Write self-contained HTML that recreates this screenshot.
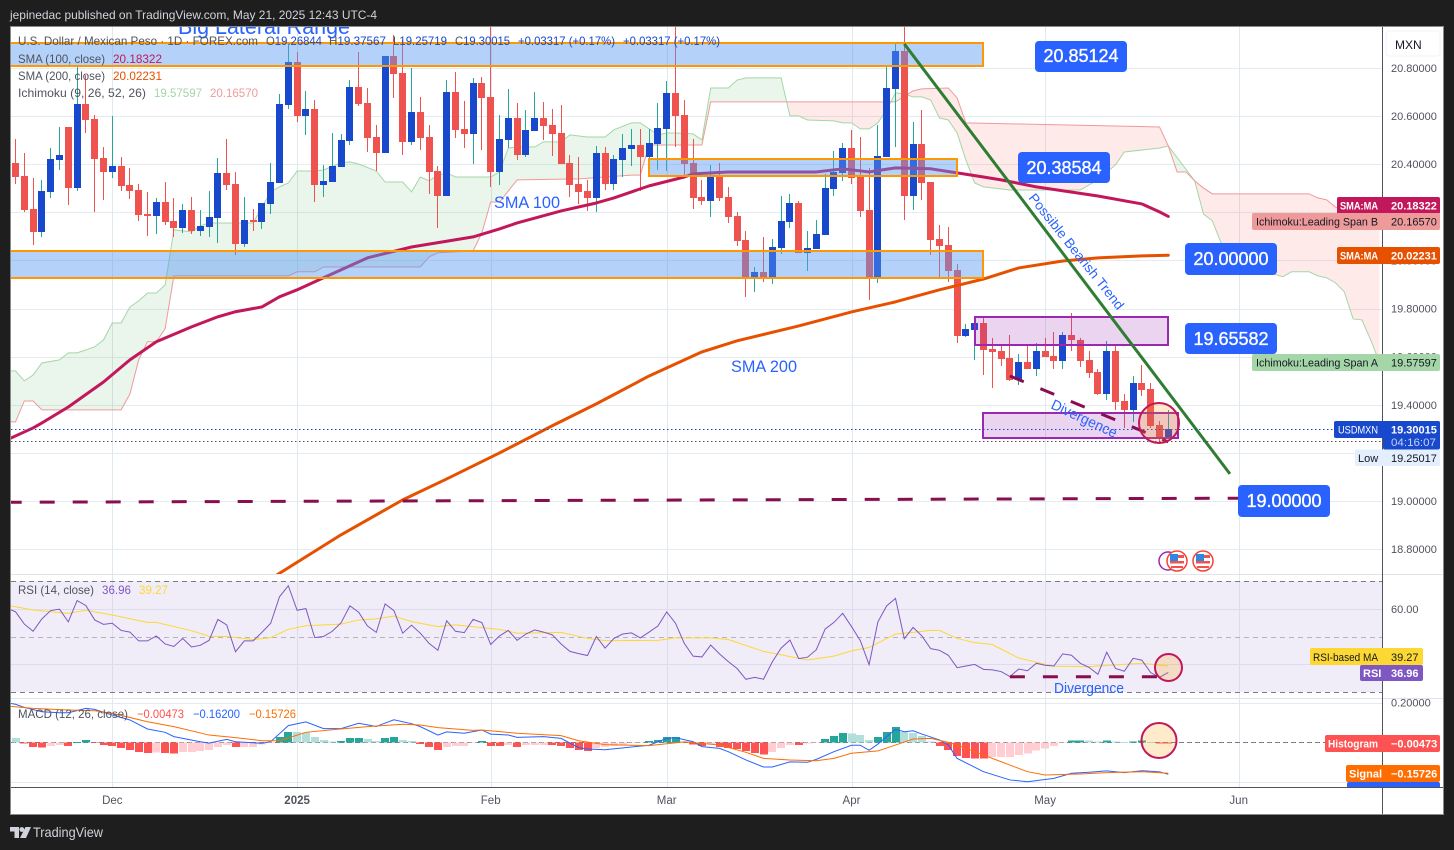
<!DOCTYPE html>
<html lang="en">
<head>
<meta charset="utf-8">
<title>USDMXN Daily Chart</title>
<style>
html,body{margin:0;padding:0;background:#1e1e1e;width:1454px;height:850px;overflow:hidden}
svg{display:block;font-family:"Liberation Sans",sans-serif}
</style>
</head>
<body>
<svg id="chart" xmlns="http://www.w3.org/2000/svg" width="1454" height="850" viewBox="0 0 1454 850">
<defs>
<clipPath id="clip-price"><rect x="11" y="27" width="1371" height="547"/></clipPath>
<clipPath id="clip-rsi"><rect x="11" y="575" width="1371" height="123"/></clipPath>
<clipPath id="clip-macd"><rect x="11" y="699" width="1371" height="88"/></clipPath>
<clipPath id="clip-scale-macd"><rect x="1300" y="699" width="143" height="88"/></clipPath>
</defs>
<rect x="0" y="0" width="1454" height="850" fill="#1e1e1e"/>
<text x="10" y="19" font-size="12" fill="#d1d4dc" textLength="367" lengthAdjust="spacingAndGlyphs">jepinedac published on TradingView.com, May 21, 2025 12:43 UTC-4</text>
<rect x="10.5" y="26.5" width="1433" height="788" fill="#ffffff" stroke="#8a8a8a" stroke-width="1"/>

<g id="grid"></g>
<rect x="11" y="581" width="1371" height="111" fill="#f0edf8"/>
<g id="gridOver"></g>

<g clip-path="url(#clip-price)">
  <g id="cloud"></g>
  <g id="candles"></g>
  <g id="mas"></g>
  <g id="zones"></g>
  <g id="trend"></g>
  <line x1="11" y1="429.5" x2="1334" y2="429.5" stroke="#1848cc" stroke-width="1" stroke-dasharray="1.5 2.5"/>
  <line x1="11" y1="441.5" x2="1382" y2="441.5" stroke="#50535e" stroke-width="1" stroke-dasharray="1.5 2.5"/>
  <circle cx="1159" cy="423" r="20" fill="#ff9800" fill-opacity="0.2" stroke="#c2185b" stroke-width="2"/>
  <text x="178" y="34" font-size="22" fill="#2962ff" textLength="172" lengthAdjust="spacingAndGlyphs">Big Lateral Range</text>
  <text x="494" y="208" font-size="17" fill="#2962ff" textLength="66" lengthAdjust="spacingAndGlyphs">SMA 100</text>
  <text x="731" y="372" font-size="17" fill="#2962ff" textLength="66" lengthAdjust="spacingAndGlyphs">SMA 200</text>
  <text transform="translate(1028 198) rotate(51.5)" font-size="13.5" fill="#2962ff" textLength="144" lengthAdjust="spacingAndGlyphs">Possible Bearish Trend</text>
  <text transform="translate(1050 408) rotate(25)" font-size="14.5" fill="#2962ff" textLength="71" lengthAdjust="spacingAndGlyphs">Divergence</text>
</g>

<g>
  <circle cx="1168" cy="561" r="9" fill="#ffffff" stroke="#9c27b0" stroke-width="1.5"/>
  <g>
    <circle cx="1177" cy="561" r="10" fill="#ffffff" stroke="#f44336" stroke-width="1.5"/>
    <rect x="1170" y="555" width="14" height="3" fill="#ef5350"/><rect x="1170" y="561" width="14" height="2.5" fill="#ef5350"/><rect x="1171" y="566" width="12" height="2" fill="#ef5350"/>
    <rect x="1170" y="554" width="8" height="7" fill="#2e86de"/>
  </g>
  <g>
    <circle cx="1203" cy="561" r="10" fill="#ffffff" stroke="#f44336" stroke-width="1.5"/>
    <rect x="1196" y="555" width="14" height="3" fill="#ef5350"/><rect x="1196" y="561" width="14" height="2.5" fill="#ef5350"/><rect x="1197" y="566" width="12" height="2" fill="#ef5350"/>
    <rect x="1196" y="554" width="8" height="7" fill="#2e86de"/>
  </g>
</g>

<g clip-path="url(#clip-rsi)">
  <g id="rsiLines"></g>
  <circle cx="1168.5" cy="667.5" r="13.5" fill="#ff9800" fill-opacity="0.2" stroke="#c2185b" stroke-width="2"/>
  <text x="1054" y="693" font-size="14.5" fill="#2962ff" textLength="70" lengthAdjust="spacingAndGlyphs">Divergence</text>
</g>

<g clip-path="url(#clip-macd)">
  <line x1="11" y1="742.5" x2="1382" y2="742.5" stroke="#787b86" stroke-width="1" stroke-dasharray="5 3"/>
  <g id="macdBars"></g>
  <g id="macdLines"></g>
  <circle cx="1159" cy="740.5" r="17.5" fill="#ff9800" fill-opacity="0.2" stroke="#c2185b" stroke-width="2"/>
</g>

<line x1="11" y1="574.5" x2="1443" y2="574.5" stroke="#e0e3eb"/>
<line x1="11" y1="698.5" x2="1443" y2="698.5" stroke="#e0e3eb"/>
<line x1="1382.5" y1="27" x2="1382.5" y2="814" stroke="#50535e"/>
<line x1="11" y1="787.5" x2="1443" y2="787.5" stroke="#50535e"/>

<g id="axisText"></g>

<g>
  <rect x="1386" y="31" width="54" height="25" rx="3" fill="#ffffff" stroke="#f0f3fa"/>
  <text x="1395" y="49" font-size="12" fill="#131722">MXN</text>
</g>

<g font-size="18" fill="#ffffff" stroke="#ffffff" stroke-width="0.35" text-anchor="middle">
  <g><rect x="1035" y="41" width="92" height="31" rx="4" fill="#2962ff" stroke="none"/><text x="1081" y="62">20.85124</text></g>
  <g><rect x="1018" y="152" width="92" height="31" rx="4" fill="#2962ff" stroke="none"/><text x="1064" y="174">20.38584</text></g>
  <g><rect x="1185" y="243" width="92" height="32" rx="4" fill="#2962ff" stroke="none"/><text x="1231" y="265">20.00000</text></g>
  <g><rect x="1185" y="323" width="92" height="31" rx="4" fill="#2962ff" stroke="none"/><text x="1231" y="345">19.65582</text></g>
  <g><rect x="1238" y="485" width="92" height="32" rx="4" fill="#2962ff" stroke="none"/><text x="1284" y="507">19.00000</text></g>
</g>

<g font-size="11">
  <g fill="#ffffff" font-weight="bold">
    <rect x="1337" y="197" width="103" height="17" rx="2" fill="#c2185b"/>
    <text x="1340" y="209.5" textLength="38" lengthAdjust="spacingAndGlyphs">SMA:MA</text><text x="1391" y="209.5">20.18322</text>
  </g>
  <g fill="#131722">
    <rect x="1252" y="213" width="188" height="17" rx="2" fill="#ef9a9a"/>
    <text x="1256" y="225.5" textLength="122" lengthAdjust="spacingAndGlyphs">Ichimoku:Leading Span B</text><text x="1391" y="225.5">20.16570</text>
  </g>
  <g fill="#ffffff" font-weight="bold">
    <rect x="1337" y="247" width="103" height="17" rx="2" fill="#e65100"/>
    <text x="1340" y="259.5" textLength="38" lengthAdjust="spacingAndGlyphs">SMA:MA</text><text x="1391" y="259.5">20.02231</text>
  </g>
  <g fill="#131722">
    <rect x="1252" y="354" width="188" height="17" rx="2" fill="#a5d6a7"/>
    <text x="1256" y="366.5" textLength="122" lengthAdjust="spacingAndGlyphs">Ichimoku:Leading Span A</text><text x="1391" y="366.5">19.57597</text>
  </g>
  <g fill="#ffffff" font-weight="bold">
    <rect x="1334" y="421" width="106" height="17" rx="2" fill="#1848cc"/>
    <rect x="1383" y="421" width="57" height="28.5" rx="2" fill="#1848cc"/>
    <text x="1338" y="433.5" font-weight="normal" textLength="40" lengthAdjust="spacingAndGlyphs">USDMXN</text><text x="1391" y="433.5">19.30015</text>
    <text x="1391" y="446" fill="#c3d2f5" font-weight="normal" textLength="45" lengthAdjust="spacingAndGlyphs">04:16:07</text>
  </g>
  <g fill="#131722">
    <rect x="1355" y="449.5" width="85" height="16.5" rx="2" fill="#e3effd"/>
    <text x="1358" y="462">Low</text><text x="1391" y="462">19.25017</text>
  </g>
  <g fill="#131722">
    <rect x="1310" y="648" width="113" height="17" rx="2" fill="#fdd835"/>
    <text x="1313" y="661" textLength="65" lengthAdjust="spacingAndGlyphs">RSI-based MA</text><text x="1391" y="661">39.27</text>
  </g>
  <g fill="#ffffff" font-weight="bold">
    <rect x="1360" y="665" width="63" height="16" rx="2" fill="#7e57c2"/>
    <text x="1363" y="677">RSI</text><text x="1391" y="677">36.96</text>
  </g>
  <g fill="#ffffff" font-weight="bold">
    <rect x="1325" y="735" width="115" height="17" rx="2" fill="#ff5252"/>
    <text x="1328" y="747.5" textLength="50" lengthAdjust="spacingAndGlyphs">Histogram</text><text x="1391" y="747.5">−0.00473</text>
  </g>
  <g fill="#ffffff" font-weight="bold">
    <rect x="1346" y="765" width="94" height="17" rx="2" fill="#ff6d00"/>
    <text x="1349" y="777.5">Signal</text><text x="1391" y="777.5">−0.15726</text>
  </g>
  <g clip-path="url(#clip-scale-macd)" fill="#ffffff" font-weight="bold">
    <rect x="1347" y="782" width="93" height="17" rx="2" fill="#2962ff"/>
    <text x="1349" y="794.5">MACD</text><text x="1391" y="794.5">−0.16200</text>
  </g>
</g>

<g font-size="12" fill="#50535e">
  <text x="18" y="45" textLength="240" lengthAdjust="spacingAndGlyphs">U.S. Dollar / Mexican Peso · 1D · FOREX.com</text>
  <text x="266" y="45" textLength="56" lengthAdjust="spacingAndGlyphs">O<tspan fill="#1848cc">19.26844</tspan></text>
  <text x="329" y="45" textLength="57" lengthAdjust="spacingAndGlyphs">H<tspan fill="#1848cc">19.37567</tspan></text>
  <text x="393" y="45" textLength="54" lengthAdjust="spacingAndGlyphs">L<tspan fill="#1848cc">19.25719</tspan></text>
  <text x="455" y="45" textLength="55" lengthAdjust="spacingAndGlyphs">C<tspan fill="#1848cc">19.30015</tspan></text>
  <text x="518" y="45" fill="#1848cc" textLength="97" lengthAdjust="spacingAndGlyphs">+0.03317 (+0.17%)</text>
  <text x="623" y="45" fill="#1848cc" textLength="97" lengthAdjust="spacingAndGlyphs">+0.03317 (+0.17%)</text>
  <text x="18" y="63" textLength="87" lengthAdjust="spacingAndGlyphs">SMA (100, close)</text>
  <text x="113" y="63" fill="#c2185b" textLength="49" lengthAdjust="spacingAndGlyphs">20.18322</text>
  <text x="18" y="80" textLength="87" lengthAdjust="spacingAndGlyphs">SMA (200, close)</text>
  <text x="113" y="80" fill="#e65100" textLength="49" lengthAdjust="spacingAndGlyphs">20.02231</text>
  <text x="18" y="97" textLength="128" lengthAdjust="spacingAndGlyphs">Ichimoku (9, 26, 52, 26)</text>
  <text x="154" y="97" fill="#a5d6a7" textLength="48" lengthAdjust="spacingAndGlyphs">19.57597</text>
  <text x="210" y="97" fill="#ef9a9a" textLength="48" lengthAdjust="spacingAndGlyphs">20.16570</text>
</g>
<g font-size="12" fill="#50535e">
  <text x="18" y="594" textLength="76" lengthAdjust="spacingAndGlyphs">RSI (14, close)</text>
  <text x="102" y="594" fill="#7e57c2" textLength="29" lengthAdjust="spacingAndGlyphs">36.96</text>
  <text x="139" y="594" fill="#fdd835" textLength="29" lengthAdjust="spacingAndGlyphs">39.27</text>
</g>
<g font-size="12" fill="#50535e">
  <text x="18" y="718" textLength="110" lengthAdjust="spacingAndGlyphs">MACD (12, 26, close)</text>
  <text x="137" y="718" fill="#ff5252" textLength="47" lengthAdjust="spacingAndGlyphs">−0.00473</text>
  <text x="193" y="718" fill="#2962ff" textLength="47" lengthAdjust="spacingAndGlyphs">−0.16200</text>
  <text x="249" y="718" fill="#ff6d00" textLength="47" lengthAdjust="spacingAndGlyphs">−0.15726</text>
</g>

<g fill="#d1d4dc">
  <path d="M10 827h9v11h-4.5v-6.5H10z"/>
  <circle cx="21.8" cy="829.5" r="2.4"/>
  <path d="M25.5 827h5.5l-5 11h-6z"/>
  <text x="33" y="837" font-size="14" textLength="70" lengthAdjust="spacingAndGlyphs">TradingView</text>
</g>
</svg>

<script>
var opens=[
20.406,20.351,20.214,20.119,20.285,20.418,20.555,20.301,20.650,20.588,
20.426,20.368,20.393,20.314,20.293,20.193,20.185,20.243,20.165,20.135,
20.210,20.123,20.139,20.177,20.364,20.318,20.069,20.169,20.160,20.235,
20.322,20.646,20.825,20.601,20.630,20.314,20.326,20.389,20.497,20.721,
20.655,20.513,20.447,20.850,20.779,20.493,20.617,20.513,20.372,20.268,
20.700,20.547,20.526,20.738,20.680,20.368,20.501,20.592,20.438,20.539,
20.592,20.563,20.530,20.406,20.318,20.289,20.260,20.447,20.318,20.418,
20.463,20.480,20.430,20.484,20.547,20.697,20.605,20.406,20.264,20.248,
20.351,20.264,20.185,20.086,19.932,19.953,19.932,20.052,20.160,20.239,
20.032,20.048,20.106,20.297,20.364,20.467,20.347,20.210,19.932,20.430,
20.713,20.871,20.268,20.484,20.326,20.090,20.065,19.961,19.686,19.711,
19.740,19.632,19.624,19.595,19.504,19.579,19.549,19.624,19.603,19.583,
19.690,19.670,19.587,19.537,19.445,19.624,19.416,19.379,19.491,19.466,
19.317,19.268];
var highs=[
20.505,20.447,20.343,20.335,20.467,20.555,20.555,20.804,20.771,20.605,
20.472,20.601,20.430,20.385,20.318,20.285,20.260,20.326,20.260,20.235,
20.264,20.210,20.289,20.426,20.505,20.368,20.264,20.214,20.239,20.406,
20.692,20.896,20.867,20.705,20.667,20.397,20.530,20.526,20.750,20.867,
20.717,20.563,20.850,20.937,20.917,20.800,20.680,20.563,20.393,20.750,
20.784,20.663,20.759,20.763,20.971,20.605,20.713,20.655,20.626,20.700,
20.659,20.630,20.647,20.438,20.430,20.335,20.476,20.472,20.438,20.526,
20.547,20.547,20.547,20.655,20.746,20.971,20.667,20.505,20.335,20.397,
20.406,20.306,20.202,20.123,19.973,20.098,20.090,20.268,20.277,20.248,
20.123,20.169,20.359,20.455,20.488,20.543,20.513,20.385,20.563,20.804,
20.900,20.971,20.576,20.626,20.326,20.148,20.140,19.985,19.736,19.761,
19.765,19.678,19.645,19.690,19.612,19.645,19.657,19.678,19.703,19.703,
19.782,19.678,19.624,19.549,19.666,19.645,19.445,19.520,19.566,19.491,
19.333,19.379];
var lows=[
20.318,20.202,20.065,20.098,20.260,20.376,20.231,20.289,20.530,20.202,
20.252,20.343,20.289,20.256,20.165,20.102,20.110,20.148,20.098,20.115,
20.110,20.102,20.098,20.073,20.293,20.023,20.056,20.123,20.131,20.193,
20.322,20.630,20.576,20.522,20.243,20.264,20.326,20.389,20.480,20.642,
20.451,20.372,20.447,20.676,20.438,20.480,20.459,20.277,20.135,20.268,
20.509,20.467,20.401,20.459,20.306,20.314,20.467,20.418,20.430,20.539,
20.501,20.434,20.401,20.264,20.235,20.206,20.202,20.293,20.293,20.347,
20.393,20.289,20.426,20.376,20.372,20.472,20.355,20.214,20.231,20.181,
20.248,20.156,20.061,19.848,19.870,19.911,19.903,20.027,20.135,20.032,
19.957,20.048,20.106,20.268,20.331,20.318,20.181,19.836,19.907,20.430,
20.472,20.169,20.210,20.252,20.023,19.932,19.911,19.657,19.682,19.587,
19.524,19.470,19.562,19.500,19.483,19.549,19.520,19.599,19.549,19.549,
19.624,19.558,19.512,19.441,19.420,19.379,19.304,19.329,19.437,19.304,
19.246,19.258];
var closes=[
20.347,20.210,20.119,20.289,20.422,20.438,20.301,20.650,20.584,20.422,
20.368,20.393,20.310,20.289,20.189,20.185,20.243,20.160,20.135,20.210,
20.123,20.144,20.181,20.364,20.314,20.069,20.169,20.160,20.239,20.326,
20.650,20.825,20.601,20.630,20.314,20.331,20.393,20.501,20.721,20.650,
20.509,20.447,20.850,20.775,20.493,20.617,20.509,20.368,20.268,20.700,
20.543,20.526,20.738,20.676,20.368,20.505,20.592,20.438,20.543,20.592,
20.559,20.526,20.401,20.314,20.285,20.260,20.447,20.318,20.422,20.467,
20.480,20.430,20.488,20.551,20.697,20.601,20.401,20.260,20.248,20.351,
20.260,20.181,20.082,19.932,19.953,19.932,20.056,20.165,20.239,20.032,
20.052,20.110,20.301,20.368,20.467,20.343,20.206,19.932,20.434,20.717,
20.871,20.268,20.484,20.322,20.086,20.061,19.957,19.686,19.715,19.740,
19.628,19.620,19.591,19.504,19.579,19.549,19.624,19.599,19.583,19.690,
19.670,19.583,19.533,19.445,19.624,19.412,19.379,19.491,19.462,19.313,
19.263,19.300];

var spanABars=[
-1,0,1,2,3,5,6,7,9,10,
11,12,13,14,15,16,17,18,19,20,
21,22,27,28,29,30,31,32,34,35,
37,38,39,41,42,44,45,46,47,48,
49,50,54,55,56,57,59,60,62,63,
65,67,68,70,71,73,74,75,77,78,
79,81,82,83,87,88,89,90,93,94,
95,96,97,98,99,100,101,102,103,104,
105,106,107,108,109,110,113,121,123,125,
126,130,131,134,135,136,137,138,143,144,
145,147,148,149,150,151,152,153,154,155];
var spanAValues=[
19.541,19.541,19.500,19.524,19.574,19.587,19.616,19.616,19.641,19.670,
19.740,19.740,19.807,19.832,19.865,19.865,19.898,20.127,20.123,20.119,
20.144,20.156,20.156,20.222,20.285,20.306,20.322,20.372,20.372,20.376,
20.406,20.410,20.401,20.372,20.326,20.326,20.285,20.347,20.331,20.355,
20.364,20.347,20.347,20.368,20.467,20.472,20.472,20.493,20.493,20.522,
20.513,20.513,20.543,20.572,20.572,20.522,20.530,20.530,20.526,20.501,
20.717,20.717,20.750,20.759,20.759,20.601,20.601,20.584,20.580,20.572,
20.572,20.547,20.547,20.572,20.626,20.697,20.692,20.680,20.680,20.667,
20.592,20.584,20.530,20.418,20.322,20.306,20.293,20.293,20.335,20.397,
20.451,20.467,20.476,20.331,20.193,20.165,20.073,20.023,19.944,19.932,
19.953,19.953,19.936,19.928,19.907,19.870,19.757,19.753,19.670,19.576];
var spanBBars=[-1,0,1,2,3,12,13,14,15,16,17,18,31,32,34,35,46,47,48,52,53,54,55,57,64,70,71,72,78,79,100,102,103,106,107,108,130,131,132,133,134,135,136,147,148,149,150,155];
var spanBValues=[19.329,19.329,19.416,19.416,19.379,19.379,19.445,19.587,19.662,19.662,19.716,19.936,19.936,19.953,19.953,19.973,19.973,20.015,20.032,20.040,20.115,20.243,20.243,20.335,20.339,20.355,20.355,20.480,20.480,20.659,20.659,20.705,20.713,20.717,20.676,20.572,20.555,20.476,20.368,20.368,20.331,20.301,20.277,20.277,20.260,20.252,20.222,20.1657];

var sma100Bars=[-1,2,3,6,10,13,16,20,23,25,28,30,32,35,40,45,52,55,57,62,66,68,72,76,77,81,91,94,97,100,104,107,110,112,116,123,128,130,131];
var sma100Values=[19.254,19.304,19.325,19.391,19.495,19.587,19.662,19.724,19.766,19.787,19.807,19.849,19.878,19.928,20.011,20.056,20.098,20.131,20.156,20.206,20.239,20.260,20.310,20.347,20.360,20.368,20.368,20.381,20.368,20.385,20.381,20.364,20.347,20.335,20.306,20.268,20.235,20.202,20.183];
var sma200Bars=[29,37,44,49,55,61,66,72,78,82,89,95,100,105,110,114,119,123,128,131];
var sma200Values=[18.677,18.860,19.005,19.092,19.200,19.313,19.404,19.520,19.620,19.666,19.728,19.786,19.828,19.878,19.923,19.969,19.998,20.011,20.019,20.022];

var rsiValues=[
60.2,59.0,54.5,51.9,56.4,59.4,59.9,55.3,63.0,61.2,
56.0,54.4,54.8,52.2,51.6,48.4,48.4,50.2,47.3,46.4,
49.3,46.2,46.8,48.6,56.2,54.2,44.5,48.4,48.4,51.5,
54.8,64.4,68.4,59.5,60.1,49.6,50.0,51.9,55.0,61.1,
58.8,53.8,51.5,61.8,59.4,51.2,54.1,51.2,47.5,45.0,
55.7,51.9,51.4,56.2,55.0,47.1,50.2,52.2,48.6,50.9,
52.4,51.6,50.6,47.3,44.6,43.8,43.1,50.0,45.8,49.3,
50.9,51.3,49.5,51.6,53.8,58.9,54.8,47.5,42.9,42.6,
46.9,43.7,40.9,38.4,34.5,35.2,34.5,40.8,45.8,48.7,
42.0,42.5,45.2,52.7,55.1,58.4,53.6,48.5,39.8,55.3,
61.1,63.8,49.2,53.3,50.2,45.6,45.0,43.2,38.7,39.3,
39.9,38.1,37.9,37.3,35.5,38.2,37.6,40.3,39.6,39.3,
43.7,43.2,40.3,38.8,36.3,44.3,38.4,37.4,42.1,41.4,
36.9,35.2,36.96];
var rsiFirstBar=-1;
var rsiMaBars=[-1,2,6,8,11,15,16,20,22,24,27,29,31,33,37,39,41,43,45,48,50,53,55,57,62,65,67,73,75,79,81,85,90,93,95,97,100,102,104,105,107,109,111,114,118,122,128,131];
var rsiMaValues=[61.4,59.6,58.4,59.5,57.8,55.1,55.1,52.1,50.1,50.0,48.9,49.6,52.6,53.9,54.5,56.0,56.4,57.4,55.4,53.6,54.2,53.2,52.6,51.2,51.5,49.3,48.5,48.6,49.5,49.5,48.9,44.6,41.5,42.9,44.8,46.0,50.9,51.5,52.2,52.2,49.3,47.8,47.1,42.2,39.2,39.1,40.3,39.27];

var macdHist=[
.022,-.005,-.024,-.025,-.019,-.014,-.019,.002,.012,-.002,
-.014,-.017,-.029,-.039,-.049,-.054,-.051,-.054,-.055,-.049,
-.049,-.044,-.039,-.024,-.014,-.024,-.024,-.024,-.009,-.003,
.029,.054,.053,.051,.027,.012,.005,.007,.022,.024,
.017,.007,.024,.027,.012,.007,-.007,-.022,-.037,-.022,
-.019,-.017,-.002,.007,-.017,-.018,-.014,-.022,-.014,-.012,
-.012,-.014,-.019,-.029,-.039,-.044,-.029,-.022,-.017,-.012,
-.003,-.002,.007,.012,.027,.029,.005,-.009,-.017,-.009,
-.022,-.027,-.034,-.044,-.054,-.060,-.048,-.027,-.012,-.014,
-.005,-.002,.019,.034,.048,.046,.037,.012,.027,.053,
.078,.054,.048,.032,.005,-.019,-.039,-.068,-.080,-.081,
-.082,-.075,-.075,-.075,-.065,-.056,-.041,-.031,-.017,-.002,
.009,.010,.009,.005,.010,.005,.002,.005,.009,.002,
-.004,-.00473];
var macdBars=[-1,0,1,3,5,6,8,9,11,13,15,17,18,21,22,24,25,28,29,31,33,35,37,39,41,43,45,46,48,49,51,53,54,56,57,60,62,64,65,67,70,72,74,75,77,78,80,81,83,85,86,88,90,91,93,95,96,97,98,100,101,102,103,105,106,107,110,113,115,118,120,122,124,126,128,130,131];
var macdValues=[.203,.195,.179,.157,.152,.152,.174,.169,.140,.115,.069,.052,.030,.004,-.003,.016,.004,-.004,.004,.086,.105,.071,.071,.098,.082,.116,.096,.081,.038,.054,.047,.064,.043,.038,.026,.030,.021,-.026,-.033,-.037,-.023,-.014,.021,.025,.004,-.021,-.030,-.047,-.089,-.125,-.125,-.099,-.101,-.086,-.047,-.014,-.014,-.040,-.008,.067,.055,.060,.043,.013,-.013,-.081,-.149,-.191,-.200,-.183,-.157,-.152,-.145,-.154,-.144,-.150,-.162];
var signalBars=[-1,2,6,9,11,15,18,22,25,28,30,33,36,40,44,46,48,52,53,57,62,64,67,72,76,80,83,85,88,91,93,95,98,100,102,104,106,107,109,111,113,115,117,121,124,128,131];
var signalValues=[.186,.174,.166,.162,.149,.106,.081,.038,.025,.009,.009,.052,.065,.081,.093,.089,.076,.062,.064,.047,.035,.009,-.011,-.016,.003,-.013,-.050,-.081,-.089,-.093,-.081,-.055,-.043,-.013,.018,.021,.001,-.013,-.047,-.081,-.115,-.149,-.166,-.161,-.154,-.149,-.157];

var priceTicks=[20.8,20.6,20.4,20.2,20.0,19.8,19.6,19.4,19.2,19.0,18.8];
var rsiTicks=[60,40];
var rsiScaleLabels=[60];
var macdTicks=[0.2,-0.2];
var timeLabels=["Dec","2025","Feb","Mar","Apr","May","Jun"];
var timeBars=[11,32,54,74,95,117,139];

var blueZoneStartBars=[-0.625,72,-0.625];
var blueZoneEndBars=[109.94,107,109.94];
var blueZoneHighs=[20.904,20.422,20.040];
var blueZoneLows=[20.809,20.351,19.928];
var purpleZoneStartBars=[109.03,109.94];
var purpleZoneEndBars=[131,132.05];
var purpleZoneHighs=[19.766,19.367];
var purpleZoneLows=[19.649,19.263];
var trendBars=[101,138];
var trendPrices=[20.900,19.113];
var supportBars=[-1,139];
var supportPrices=[18.995,19.012];
var divergenceBars=[113,131];
var divergencePrices=[19.520,19.246];
var rsiDivergenceBars=[113,130];
var rsiDivergenceValues=[35.4,35.4];

var NS='http://www.w3.org/2000/svg';
function X(b){return 15.5+8.8*b;}
function Y(p){return 68+(20.8-p)*240.6;}
function YR(v){return 581.3+(70-v)*2.76;}
function YM(v){return 742.5-v*196;}
function make(tag,parent,attrs){
  var e=document.createElementNS(NS,tag);
  for(var k in attrs){e.setAttribute(k,attrs[k]);}
  parent.appendChild(e);
  return e;
}
function byId(id){return document.getElementById(id);}
function pathFrom(bars,vals,yf){
  var d='';
  for(var i=0;i<bars.length;i++){d+=(i?'L':'M')+X(bars[i]).toFixed(2)+' '+yf(vals[i]).toFixed(2);}
  return d;
}
function interp(bars,vals,b){
  if(b<=bars[0])return vals[0];
  for(var i=1;i<bars.length;i++){
    if(b<=bars[i]){
      var t=(b-bars[i-1])/(bars[i]-bars[i-1]);
      return vals[i-1]+t*(vals[i]-vals[i-1]);
    }
  }
  return vals[vals.length-1];
}

var gridG=byId('grid');
priceTicks.forEach(function(p){
  var el=make('line',gridG,{x1:11,x2:1382,y1:Math.round(Y(p))+.5,y2:Math.round(Y(p))+.5,stroke:'#e4ecf2'});
  
  
});
timeBars.forEach(function(b){
  var xx=Math.round(X(b))+.5;
  var el=make('line',gridG,{x1:xx,x2:xx,y1:27,y2:787,stroke:'#e0e8f0'});
  
  
});
macdTicks.forEach(function(v){
  var el=make('line',gridG,{x1:11,x2:1382,y1:Math.round(YM(v))+.5,y2:Math.round(YM(v))+.5,stroke:'#e4e8ef'});
  
  
});
var gridOver=byId('gridOver');
rsiTicks.forEach(function(v){
  var el=make('line',gridOver,{x1:11,x2:1382,y1:Math.round(YR(v))+.5,y2:Math.round(YR(v))+.5,stroke:'#dcdcec'});
  
  
});
timeBars.forEach(function(b){
  var xx=Math.round(X(b))+.5;
  var el=make('line',gridOver,{x1:xx,x2:xx,y1:581,y2:692,stroke:'#dcdcec'});
  
  
});
[[70,1],[50,.5],[30,1]].forEach(function(r){
  var el=make('line',gridOver,{x1:11,x2:1382,y1:Math.round(YR(r[0]))+.5,y2:Math.round(YR(r[0]))+.5,stroke:'#787b86','stroke-opacity':r[1],'stroke-dasharray':'5 4'});
  
  
});

var cloudG=byId('cloud');
function quad(b0,b1,a0,s0,a1,s1,color){
  var pts=[X(b0)+','+Y(a0),X(b1)+','+Y(a1),X(b1)+','+Y(s1),X(b0)+','+Y(s0)].join(' ');
  var el=make('polygon',cloudG,{points:pts,fill:color});
  
  
}
var GREEN='rgba(67,160,71,0.11)',RED='rgba(244,67,54,0.11)';
for(var bar=-1;bar<155;bar++){
  var a0=interp(spanABars,spanAValues,bar),a1=interp(spanABars,spanAValues,bar+1);
  var s0=interp(spanBBars,spanBValues,bar),s1=interp(spanBBars,spanBValues,bar+1);
  var d0=a0-s0,d1=a1-s1;
  if(d0*d1<0){
    var frac=d0/(d0-d1),bm=bar+frac,mid=a0+frac*(a1-a0);
    quad(bar,bm,a0,s0,mid,mid,d0>0?GREEN:RED);
    quad(bm,bar+1,mid,mid,a1,s1,d1>0?GREEN:RED);
  }else{
    quad(bar,bar+1,a0,s0,a1,s1,(d0+d1)>=0?GREEN:RED);
  }
}
var spanALine=make('path',cloudG,{d:pathFrom(spanABars,spanAValues,Y),fill:'none',stroke:'#a5d6a7','stroke-width':1});


var spanBLine=make('path',cloudG,{d:pathFrom(spanBBars,spanBValues,Y),fill:'none',stroke:'#ef9a9a','stroke-width':1});



var candleG=byId('candles');
opens.forEach(function(open,idx){
  var up=closes[idx]>=open;
  var bodyLeft=Math.round(X(idx)-3.5);
  var candle=make('g',candleG,{'shape-rendering':'crispEdges'});
  
  
  var yh=Math.round(Y(highs[idx])),yl=Math.round(Y(lows[idx]));
  make('rect',candle,{x:bodyLeft+3,y:yh,width:1,height:Math.max(1,yl-yh),fill:up?'#26a69a':'#ef5350'});
  var yt=Math.round(Y(Math.max(open,closes[idx]))),yb=Math.round(Y(Math.min(open,closes[idx])));
  make('rect',candle,{x:bodyLeft,y:yt,width:7,height:Math.max(1,yb-yt),fill:up?'#1848cc':'#ef5350'});
});

var maG=byId('mas');
var sma200Line=make('path',maG,{d:pathFrom(sma200Bars,sma200Values,Y),fill:'none',stroke:'#e65100','stroke-width':3,'stroke-linejoin':'round','stroke-linecap':'round'});


var sma100Line=make('path',maG,{d:pathFrom(sma100Bars,sma100Values,Y),fill:'none',stroke:'#c2185b','stroke-width':3,'stroke-linejoin':'round','stroke-linecap':'round'});



var zoneG=byId('zones');
blueZoneHighs.forEach(function(h,k){
  var x0=Math.round(X(blueZoneStartBars[k])),x1=Math.round(X(blueZoneEndBars[k]));
  var y0=Math.round(Y(h)),y1=Math.round(Y(blueZoneLows[k]));
  var el=make('rect',zoneG,{x:x0,y:y0,width:x1-x0,height:y1-y0,fill:'rgba(86,153,242,0.45)',stroke:'#ff9800','stroke-width':2});
  
  
});
purpleZoneHighs.forEach(function(h,k){
  var x0=Math.round(X(purpleZoneStartBars[k])),x1=Math.round(X(purpleZoneEndBars[k]));
  var y0=Math.round(Y(h)),y1=Math.round(Y(purpleZoneLows[k]));
  var el=make('rect',zoneG,{x:x0,y:y0,width:x1-x0,height:y1-y0,fill:'rgba(156,39,176,0.2)',stroke:'#9c27b0','stroke-width':2});
  
  
});

var trendG=byId('trend');
var bearLine=make('path',trendG,{d:pathFrom(trendBars,trendPrices,Y),fill:'none',stroke:'#2e7d32','stroke-width':3});


var supportLine=make('path',trendG,{d:pathFrom(supportBars,supportPrices,Y),fill:'none',stroke:'#880e4f','stroke-width':3,'stroke-dasharray':'15 18'});


var divLine=make('path',trendG,{d:pathFrom(divergenceBars,divergencePrices,Y),fill:'none',stroke:'#880e4f','stroke-width':3,'stroke-dasharray':'15 18'});



var rsiG=byId('rsiLines');
var rsiBars=rsiValues.map(function(v,k){return k+rsiFirstBar;});
var rsiMaLine=make('path',rsiG,{d:pathFrom(rsiMaBars,rsiMaValues,YR),fill:'none',stroke:'#fdd835','stroke-width':1});


var rsiLine=make('path',rsiG,{d:pathFrom(rsiBars,rsiValues,YR),fill:'none',stroke:'#7e57c2','stroke-width':1});


var rsiDiv=make('path',rsiG,{d:pathFrom(rsiDivergenceBars,rsiDivergenceValues,YR),fill:'none',stroke:'#880e4f','stroke-width':3,'stroke-dasharray':'15 18'});



var barG=byId('macdBars');
macdHist.forEach(function(v,k){
  var prev=k?macdHist[k-1]:null;
  var col;
  if(v>=0){col=(prev!==null&&v>=prev)?'#26a69a':'#b2dfdb';}
  else{col=(prev!==null&&v<prev)?'#ff5252':'#ffcdd2';}
  var y0=YM(0),y1=YM(v);
  var el=make('rect',barG,{x:Math.round(X(k)-4),y:Math.min(y0,y1),width:8,height:Math.max(.7,Math.abs(y1-y0)),fill:col,'shape-rendering':'crispEdges'});
  
  
});
var mlG=byId('macdLines');
var macdLine=make('path',mlG,{d:pathFrom(macdBars,macdValues,YM),fill:'none',stroke:'#2962ff','stroke-width':1});


var signalLine=make('path',mlG,{d:pathFrom(signalBars,signalValues,YM),fill:'none',stroke:'#ff6d00','stroke-width':1});



var axG=byId('axisText');
priceTicks.forEach(function(p){
  var el=make('text',axG,{x:1391,y:Y(p)+4,'font-size':11,fill:'#50535e'});
  el.textContent=p.toFixed(5);
  
  
});
rsiScaleLabels.forEach(function(v){
  var el=make('text',axG,{x:1391,y:YR(v)+4,'font-size':11,fill:'#50535e'});
  el.textContent=v.toFixed(2);
  
  
});
var macdTickText=make('text',axG,{x:1391,y:YM(macdTicks[0])+3,'font-size':11,fill:'#50535e','clip-path':'url(#clip-scale-macd)'});
macdTickText.textContent=macdTicks[0].toFixed(5);


timeLabels.forEach(function(label,k){
  var el=make('text',axG,{x:X(timeBars[k]),y:804,'font-size':11.5,fill:'#50535e','text-anchor':'middle','font-weight':label==='2025'?'bold':'normal'});
  el.textContent=label;
  
  
});
</script>
</body>
</html>
